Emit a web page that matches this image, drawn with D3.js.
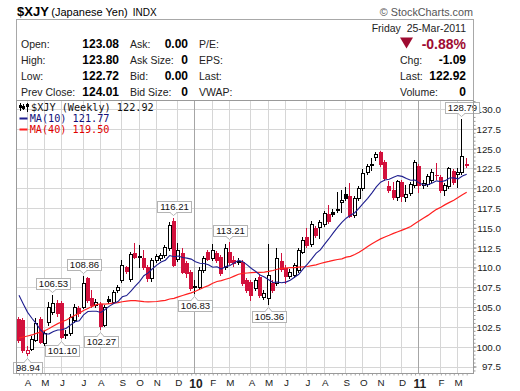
<!DOCTYPE html>
<html>
<head>
<meta charset="utf-8">
<script src="https://cdn.jsdelivr.net/npm/d3@7/dist/d3.min.js"></script>
<style>
html,body{margin:0;padding:0;background:#fff;}
svg{display:block;}
</style>
</head>
<body>
<svg id="chart" width="520" height="391"></svg>
<script>
// ---------------- data ----------------
const symbol = "$XJY";
const symbolName = "(Japanese Yen)";
const exchange = "INDX";
const firstWeek = "2009-03-23";          // Monday of the first weekly bar
const holidayMondays = ["2010-05-31"];   // weeks whose first trading day is a Tuesday
const monthLabels = ["A","M","J","J","A","S","O","N","D","10","F","M","A","M","J","J","A","S","O","N","D","11","F","M"];
const yTicks = [97.5,100,102.5,105,107.5,110,112.5,115,117.5,120,122.5,125,127.5,130];

const opens = [103.49,103.37,99.20,99.71,100.84,103.49,100.46,103.12,104.38,105.51,
105.51,101.60,101.73,103.37,104.88,105.01,108.67,106.14,105.26,105.39,
102.74,106.02,105.64,107.15,108.42,110.06,108.54,111.82,111.45,111.19,
110.06,108.67,110.94,111.19,111.57,112.46,115.86,111.07,111.82,110.56,
109.43,107.66,107.55,109.68,111.95,111.19,111.82,111.32,110.06,111.95,
110.94,110.70,110.69,108.42,108.16,107.41,108.80,106.27,106.14,108.04,
108.04,110.81,109.93,108.92,109.00,109.68,111.95,113.84,112.96,114.98,
115.11,115.48,116.75,117.00,117.38,118.26,119.27,119.02,116.62,118.77,
120.03,122.05,123.06,123.94,124.57,123.31,120.28,119.78,118.89,120.79,
118.89,119.40,120.41,122.81,120.41,120.53,121.04,121.73,121.42,119.78,
120.28,122.17,121.80,122.05,123.08];

const highs = [103.75,103.62,100.05,101.35,103.62,103.75,101.98,105.64,106.53,105.89,
105.77,102.11,104.13,105.39,105.13,108.86,108.80,107.15,106.02,105.64,
105.26,106.40,107.15,107.79,110.94,110.18,111.95,113.09,112.83,112.20,
110.31,111.19,111.70,111.82,112.83,115.74,116.21,113.09,112.50,110.81,
109.68,108.42,110.00,111.45,112.20,112.90,112.08,111.57,112.95,113.21,
111.45,111.19,110.94,108.67,108.42,108.67,109.05,107.15,112.90,108.42,
112.46,111.82,110.31,109.80,110.56,112.46,113.84,114.98,115.86,115.23,
115.99,117.13,117.88,117.38,119.52,119.78,120.15,120.66,119.02,120.28,
122.43,123.06,123.82,124.57,124.70,123.56,120.91,120.79,121.04,121.04,
120.41,120.79,123.56,123.06,121.04,121.80,122.43,123.18,121.67,120.66,
122.70,122.43,122.55,128.79,123.80];

const lows = [100.59,99.33,98.94,99.58,100.72,100.46,100.21,102.74,104.13,103.87,
101.10,101.15,101.47,103.12,103.87,104.88,105.64,105.01,105.01,102.27,
102.61,105.51,105.51,106.90,108.16,109.30,108.29,111.19,110.06,109.80,
108.29,108.29,110.69,110.94,111.32,112.20,110.18,110.81,109.30,108.80,
107.15,106.83,107.30,109.43,110.94,110.94,110.69,109.05,109.80,110.44,
110.18,110.44,107.79,106.90,105.89,107.15,106.27,106.02,105.36,106.90,
107.79,109.55,108.04,108.67,108.80,109.43,111.82,112.58,112.71,113.84,
113.72,115.23,115.61,116.49,117.00,117.00,118.51,116.37,116.37,118.51,
119.78,121.80,122.30,123.56,122.81,121.04,119.52,118.64,118.51,118.39,
118.39,119.15,120.15,119.52,120.03,120.30,120.80,121.20,119.52,119.15,
120.03,120.53,120.15,121.80,122.72];

const closes = [100.84,99.58,99.52,100.97,102.99,100.59,101.73,105.01,105.51,104.25,
101.22,101.47,103.75,105.01,104.25,108.04,105.89,105.26,105.64,102.61,
105.01,105.77,106.90,107.53,110.31,109.55,111.70,111.32,111.36,110.06,
108.67,110.94,111.45,111.57,112.58,115.36,110.31,112.20,109.43,109.30,
107.41,107.50,109.68,111.19,111.10,112.20,110.94,109.30,112.46,110.69,
110.56,110.85,108.04,107.15,106.52,108.42,106.52,106.78,109.05,107.15,
111.19,109.80,108.92,109.43,110.31,112.20,113.47,112.83,115.48,114.10,
115.74,116.87,115.86,116.75,117.25,118.51,118.77,116.49,118.77,120.03,
121.92,122.81,122.93,124.32,123.06,121.29,119.78,118.89,120.91,119.02,
119.27,120.53,123.31,120.41,120.66,121.54,122.05,121.61,119.78,120.41,
122.55,120.79,122.05,124.01,122.92];

// weekly closes before the visible window (needed for the moving averages)
const priorCloses = [93.9,94.5,95.5,94.9,94.6,94.2,93.7,92.9,92.6,
91.9,92.3,91.6,93.5,93.4,95.0,95.3,94.6,96.8,98.6,
106.9,103.4,103.7,104.9,106.2,106.4,109.7,111.3,113.6,112.1,
110.2,110.5,110.2,108.4,109.8,108.6,106.8,104.8,102.6,102.4];

const annotations = [
  {value: 98.94, at: "low"}, {value: 106.53, at: "high"}, {value: 101.10, at: "low"},
  {value: 108.86, at: "high"}, {value: 102.27, at: "low"}, {value: 116.21, at: "high"},
  {value: 106.83, at: "low"}, {value: 113.21, at: "high"}, {value: 105.36, at: "low"},
  {value: 128.79, at: "high"}
];

// ---------------- setup ----------------
const FONT = "'Liberation Sans', Arial, Helvetica, sans-serif";
const MONO = "'DejaVu Sans Mono', 'Liberation Mono', monospace";
const RED = "#d2103c", DARKRED = "#9e0b31", BLUE = "#1f1f8f", MARED = "#ff2020";
const svg = d3.select("#chart");
const n = closes.length;
const L = 16.5, R = 473.5, T = 100.5, B = 373.5;

const parse = d3.utcParse("%Y-%m-%d");
const fmt = d3.utcFormat("%Y-%m-%d");
const weeks = d3.range(n).map(i => d3.utcMonday.offset(parse(firstWeek), i));
const tradeStart = weeks.map(d => holidayMondays.includes(fmt(d)) ? d3.utcDay.offset(d, 1) : d);

const x = d3.scalePoint().domain(weeks).range([19, 466.7]);
const y = d3.scaleLinear().domain([97.5, 130]).range([366.5, 109]);

// plain hyphen-minus formatting (as in the original)
const f2 = v => (+v).toFixed(2);

// ---------------- header ----------------
const title = svg.append("text").attr("x", 17).attr("y", 15.5).attr("font-family", FONT).attr("fill", "#000");
title.append("tspan").attr("font-weight", "bold").attr("font-size", 13).text(symbol);
title.append("tspan").attr("font-size", 11).attr("dx", 2.5).text(symbolName);
title.append("tspan").attr("font-size", 10).attr("dx", 5).text(exchange);
svg.append("text").attr("x", 473).attr("y", 15.5).attr("text-anchor", "end")
  .attr("font-family", FONT).attr("font-size", 10.8).attr("fill", "#555").text("\u00A9 StockCharts.com");

svg.append("rect").attr("x", L).attr("y", 19.5).attr("width", R - L).attr("height", T - 19.5)
  .attr("fill", "#fff").attr("stroke", "#a8a8a8");

const last = n - 1;
const chg = closes[last] - closes[last - 1];
const rowsY = [47.5, 63.8, 80.1, 96.4];
function lab(xp, yp, t, anchor) {
  svg.append("text").attr("x", xp).attr("y", yp).attr("text-anchor", anchor || "start")
    .attr("font-family", FONT).attr("font-size", 10.5).attr("fill", "#222").text(t);
}
function val(xp, yp, t, size, color) {
  svg.append("text").attr("x", xp).attr("y", yp).attr("text-anchor", "end")
    .attr("font-family", FONT).attr("font-size", size || 12).attr("font-weight", "bold")
    .attr("fill", color || "#000").text(t);
}
const col1 = [["Open:", f2(opens[last])], ["High:", f2(highs[last])], ["Low:", f2(lows[last])], ["Prev Close:", f2(closes[last - 1])]];
const col2 = [["Ask:", "0.00"], ["Ask Size:", "0"], ["Bid:", "0.00"], ["Bid Size:", "0"]];
const col3 = ["P/E:", "EPS:", "Last:", "VWAP:"];
col1.forEach((r, k) => { lab(21, rowsY[k], r[0]); val(119, rowsY[k], r[1]); });
col2.forEach((r, k) => { lab(130, rowsY[k], r[0]); val(188, rowsY[k], r[1]); });
col3.forEach((r, k) => lab(199, rowsY[k], r));

const lastFriday = d3.utcDay.offset(weeks[last], 4);
lab(466, 32, d3.utcFormat("%A")(lastFriday) + "\u00A0\u00A0" + d3.utcFormat("%d-%b-%Y")(lastFriday), "end");
svg.append("path").attr("d", "M400,37.5 L413,37.5 L406.5,48.5 Z").attr("fill", DARKRED);
val(466, 48.5, f2(chg / closes[last - 1] * 100) + "%", 14, DARKRED);
lab(400, rowsY[1], "Chg:"); val(466, rowsY[1], f2(chg));
lab(400, rowsY[2], "Last:"); val(466, rowsY[2], f2(closes[last]));
lab(400, rowsY[3], "Volume:"); val(466, rowsY[3], "0");

// ---------------- grid ----------------
const grid = svg.append("g");
yTicks.forEach(v => {
  const yy = Math.round(y(v)) + 0.5;
  grid.append("line").attr("x1", L).attr("x2", R).attr("y1", yy).attr("y2", yy).attr("stroke", "#d6d6d6");
});
const monthStarts = weeks.filter((d, i) => i > 0 && tradeStart[i].getUTCMonth() !== tradeStart[i - 1].getUTCMonth());
monthStarts.forEach(d => {
  const xx = Math.round(x(d)) - 0.5;
  const isYear = tradeStart[weeks.indexOf(d)].getUTCMonth() === 0;
  grid.append("line").attr("x1", xx).attr("x2", xx).attr("y1", T).attr("y2", B)
    .attr("stroke", isYear ? "#a6a6a6" : "#d6d6d6");
});

// ---------------- axes ----------------
const yAxis = d3.axisRight(y).tickValues(yTicks).tickFormat(d3.format(".1f")).tickSize(3).tickPadding(0);
const ya = svg.append("g").attr("transform", `translate(${R},0)`).call(yAxis);
ya.select(".domain").remove();
ya.selectAll("line").attr("stroke", "#888");
ya.selectAll("text").attr("font-family", FONT).attr("font-size", 9.8).attr("fill", "#222")
  .attr("text-anchor", "end").attr("x", 27.5).attr("dy", "0.35em");
const minor = d3.range(97, 131.01, 0.5);
const ym = svg.append("g").attr("transform", `translate(${R},0)`)
  .call(d3.axisRight(y).tickValues(minor.filter(v => y(v) > T && y(v) < B)).tickFormat("").tickSize(2));
ym.select(".domain").remove();
ym.selectAll("line").attr("stroke", "#999");

const xw = svg.append("g").attr("transform", `translate(0,${B})`)
  .call(d3.axisBottom(x).tickValues(weeks).tickFormat("").tickSize(2));
xw.select(".domain").remove();
xw.selectAll("line").attr("stroke", "#aaa");

const xAxis = d3.axisBottom(x).tickValues(monthStarts).tickSize(0).tickPadding(6)
  .tickFormat((d, i) => monthLabels[i]);
const xa = svg.append("g").attr("transform", `translate(0,${B})`).call(xAxis);
xa.select(".domain").remove();
xa.selectAll("text").attr("font-family", FONT).attr("fill", "#222")
  .attr("font-size", (d, i) => /\d/.test(monthLabels[i]) ? 12 : 9.8)
  .attr("font-weight", (d, i) => /\d/.test(monthLabels[i]) ? "bold" : "normal");

// ---------------- candles ----------------
svg.append("clipPath").attr("id", "plotclip").append("rect")
  .attr("x", L).attr("y", T).attr("width", R - L).attr("height", B - T);
const plot = svg.append("g").attr("clip-path", "url(#plotclip)");

const cg = plot.append("g").attr("shape-rendering", "crispEdges");
weeks.forEach((d, i) => {
  const o = opens[i], c = closes[i], h = highs[i], l = lows[i];
  const prev = i > 0 ? closes[i - 1] : priorCloses[priorCloses.length - 1];
  const col = c < prev ? RED : "#000";
  const cx = Math.round(x(d));
  cg.append("line").attr("x1", cx - 0.5).attr("x2", cx - 0.5)
    .attr("y1", Math.round(y(h))).attr("y2", Math.round(y(l)) + 1).attr("stroke", col);
  const top = Math.round(y(Math.max(o, c))), bot = Math.round(y(Math.min(o, c)));
  if (c > o) {
    cg.append("rect").attr("x", cx - 1.5).attr("y", top + 0.5).attr("width", 3)
      .attr("height", Math.max(1, bot - top)).attr("fill", "#fff").attr("stroke", col);
  } else {
    cg.append("rect").attr("x", cx - 2).attr("y", top).attr("width", 4)
      .attr("height", Math.max(1, bot - top + 1)).attr("fill", col);
  }
});

// ---------------- moving averages ----------------
const all = priorCloses.concat(closes);
const off = priorCloses.length;
const sma = p => closes.map((_, i) => d3.mean(all.slice(off + i - p + 1, off + i + 1)));
const ma10 = sma(10), ma40 = sma(40);
const line = d3.line().x((d, i) => x(weeks[i])).y(d => y(d));
plot.append("path").datum(ma40).attr("d", line).attr("fill", "none").attr("stroke", MARED).attr("stroke-width", 1.2);
plot.append("path").datum(ma10).attr("d", line).attr("fill", "none").attr("stroke", BLUE).attr("stroke-width", 1.1);

// ---------------- annotations ----------------
const ag = svg.append("g");
annotations.forEach(a => {
  const i = a.at === "high" ? highs.indexOf(a.value) : lows.indexOf(a.value);
  if (i < 0) return;
  const cx = Math.round(x(weeks[i])) - 0.5;
  const g = ag.append("g");
  const t = g.append("text").attr("font-family", FONT).attr("font-size", 9.6).attr("fill", "#111")
    .attr("text-anchor", "middle").text(f2(a.value));
  const w = Math.round(t.node().getComputedTextLength()) + 5;
  const bh = 11;
  let tip, base, by;
  if (a.at === "high") { tip = Math.round(y(a.value)) - 2.5; base = tip - 3.5; by = base - bh; }
  else { tip = Math.round(y(a.value)) + 3.5; base = tip + 3.5; by = base; }
  const bx = Math.round(cx - w / 2) + 0.5;
  g.insert("rect", "text").attr("x", bx).attr("y", Math.round(by) + 0.5).attr("width", w).attr("height", bh)
    .attr("fill", "#fff").attr("stroke", "#b4b4b4");
  const b = Math.round(base) + 0.5;
  g.insert("path", "text").attr("d", `M${cx - 3.5},${b} L${cx},${tip} L${cx + 3.5},${b}`)
    .attr("fill", "#fff").attr("stroke", "#b4b4b4");
  g.insert("line", "text").attr("x1", cx - 2.6).attr("x2", cx + 2.6).attr("y1", b).attr("y2", b)
    .attr("stroke", "#fff").attr("stroke-width", 1.2);
  t.attr("x", bx + w / 2).attr("y", Math.round(by) + 9.3);
});

// ---------------- legend ----------------
const lg = svg.append("g");
const ic = lg.append("g").attr("shape-rendering", "crispEdges");
[[20, 103, 111, 105, 108], [23.5, 104, 110, 106, 109], [27, 103, 112, 104, 107]].forEach(s => {
  ic.append("line").attr("x1", s[0]).attr("x2", s[0]).attr("y1", s[1]).attr("y2", s[2]).attr("stroke", "#000");
  ic.append("rect").attr("x", s[0] - 1.5).attr("y", s[3]).attr("width", 3).attr("height", s[4] - s[3]).attr("fill", "#000");
});
lg.append("text").attr("x", 31).attr("y", 110.5).attr("font-family", MONO).attr("font-size", 10.2)
  .attr("fill", "#111").text(`${symbol} (Weekly) ${f2(closes[last])}`);
lg.append("rect").attr("x", 19.5).attr("y", 117.5).attr("width", 8).attr("height", 2).attr("fill", BLUE);
lg.append("text").attr("x", 29.7).attr("y", 121.5).attr("font-family", MONO).attr("font-size", 10.2)
  .attr("fill", "#10107a").text(`MA(10) ${f2(ma10[last])}`);
lg.append("rect").attr("x", 19.5).attr("y", 128.5).attr("width", 8).attr("height", 2).attr("fill", MARED);
lg.append("text").attr("x", 29.7).attr("y", 132.5).attr("font-family", MONO).attr("font-size", 10.2)
  .attr("fill", "#e00000").text(`MA(40) ${f2(ma40[last])}`);

// ---------------- frame ----------------
svg.append("rect").attr("x", L).attr("y", T).attr("width", R - L).attr("height", B - T)
  .attr("fill", "none").attr("stroke", "#9a9a9a").attr("shape-rendering", "crispEdges");
</script>
</body>
</html>
